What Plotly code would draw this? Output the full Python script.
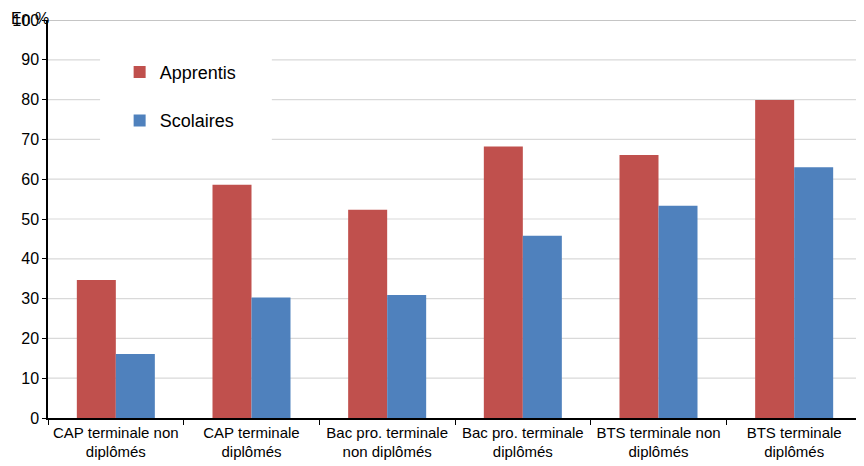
import plotly.graph_objects as go

categories = ["CAP terminale non<br>diplômés", "CAP terminale<br>diplômés",
              "Bac pro. terminale<br>non diplômés", "Bac pro. terminale<br>diplômés",
              "BTS terminale non<br>diplômés", "BTS terminale<br>diplômés"]
apprentis = [34.7, 58.6, 52.3, 68.2, 66.1, 79.9]
scolaires = [16.1, 30.3, 30.9, 45.8, 53.3, 63.0]
yticks = list(range(0, 101, 10))

fig = go.Figure()
fig.add_trace(go.Bar(name="Apprentis", x=categories, y=apprentis,
                     marker=dict(color="#C0504D", line=dict(width=0)), legendgroup="a"))
fig.add_trace(go.Bar(name="Scolaires", x=categories, y=scolaires,
                     marker=dict(color="#4F81BD", line=dict(width=0)), legendgroup="b"))

# grid lines as shapes so the legend's white panel can cover them
shapes = []
for v in yticks[1:]:
    shapes.append(dict(type="line", xref="x domain", yref="y", x0=0, x1=1, y0=v, y1=v,
                       line=dict(color="#8c8c8c" if v == 100 else "#d9d9d9", width=1.2),
                       layer="below"))
shapes.append(dict(type="rect", xref="x domain", yref="y domain", x0=0.064, x1=0.275,
                   y0=0.636, y1=0.975, fillcolor="white", line=dict(width=0), layer="below"))

font = "Liberation Sans, Arial, sans-serif"
fig.update_layout(
    width=864, height=466,
    margin=dict(l=40, r=10, t=12, b=56, autoexpand=False),
    paper_bgcolor="white", plot_bgcolor="white",
    barmode="group", bargap=0.425, bargroupgap=0,
    font=dict(family=font, size=15, color="black"),
    showlegend=True,
    legend=dict(x=0.088, y=0.915, xanchor="left", yanchor="top",
                bgcolor="rgba(0,0,0,0)", font=dict(size=18, color="black"),
                tracegroupgap=22, traceorder="grouped"),
    xaxis=dict(showline=True, linecolor="black", linewidth=1.5,
               ticks="outside", tickson="boundaries", ticklen=5, tickcolor="black",
               tickangle=0, tickfont=dict(size=15, color="black")),
    yaxis=dict(range=[0, 100], tickvals=yticks, showgrid=False,
               showline=True, linecolor="black", linewidth=1.5,
               ticks="outside", ticklen=4, tickcolor="black", zeroline=False,
               tickfont=dict(size=16, color="black")),
    shapes=shapes,
    annotations=[
        dict(text="En %", xref="paper", yref="paper", x=0, y=1, xanchor="right",
             yanchor="middle", xshift=3, yshift=2, showarrow=False,
             font=dict(size=16, color="black")),
    ],
)

fig.write_html("out.html")
